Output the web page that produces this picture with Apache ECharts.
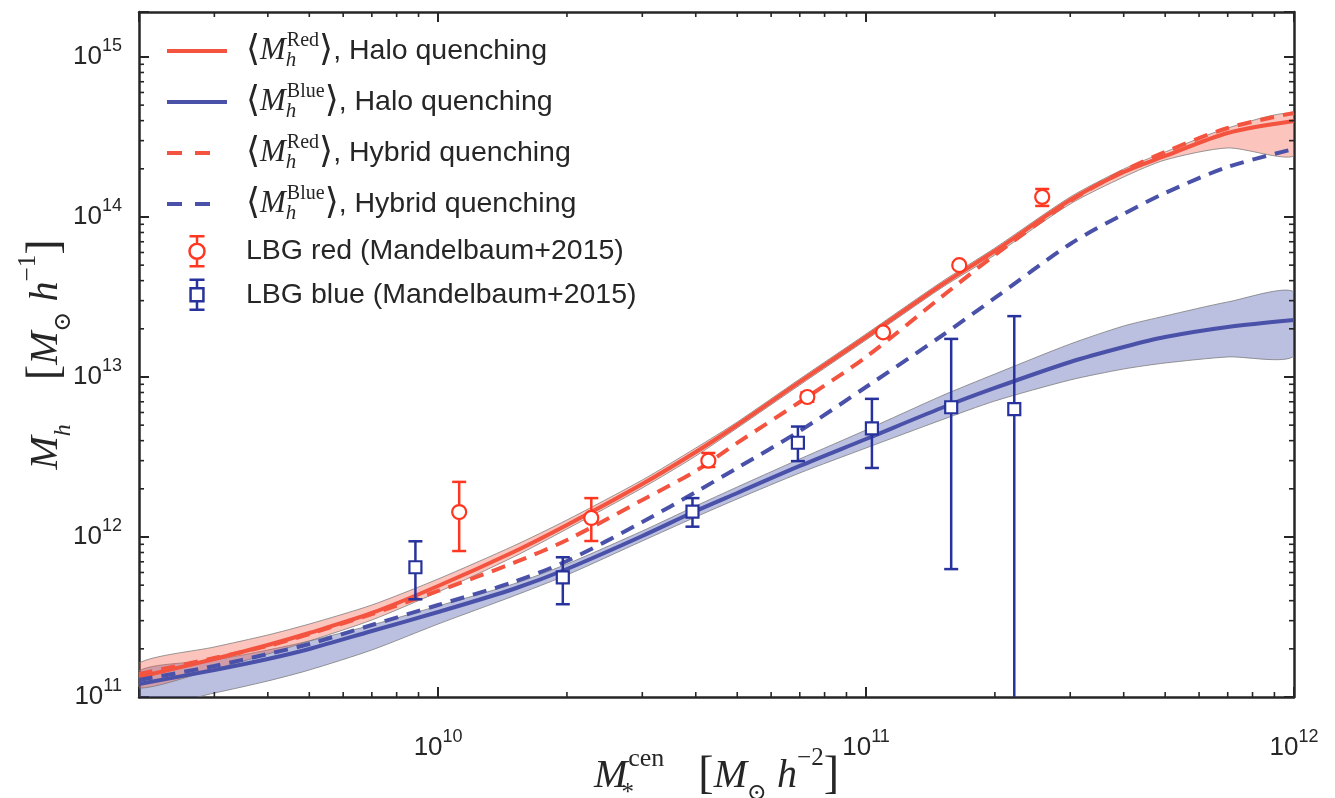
<!DOCTYPE html>
<html>
<head>
<meta charset="utf-8">
<script src="https://cdn.jsdelivr.net/npm/echarts@6/dist/echarts.min.js"></script>
<style>
  html, body { margin: 0; padding: 0; background: #fff; }
  #chart { width: 1335px; height: 798px; }
</style>
</head>
<body>
<div id="chart"></div>
<script>
// Central stellar mass grid shared by all model curves
const stellarMass = [2e9, 3e9, 4e9, 5e9, 7e9, 1e10, 1.5e10, 2e10, 3e10, 4e10, 5e10, 7e10,
  1e11, 1.5e11, 2e11, 3e11, 4e11, 5e11, 7e11, 1e12];

// Halo quenching model: mean halo mass of red / blue centrals with 1-sigma band
const redHalo = [1.334e11, 1.728e11, 2.113e11, 2.512e11, 3.35e11, 4.94e11, 8.06e11, 1.189e12, 2.144e12,
  3.398e12, 5.012e12, 9.31e12, 1.778e13, 3.758e13, 6.13e13, 1.277e14, 1.911e14, 2.406e14, 3.35e14, 3.98e14];
const redHaloLow = [1.138e11, 1.496e11, 1.857e11, 2.239e11, 3.028e11, 4.531e11, 7.5e11, 1.122e12, 2.025e12,
  3.207e12, 4.8e12, 8.91e12, 1.703e13, 3.6e13, 5.79e13, 1.206e14, 1.778e14, 2.271e14, 2.7e14, 2.406e14];
const redHaloHigh = [1.631e11, 2.054e11, 2.441e11, 2.858e11, 3.758e11, 5.464e11, 8.79e11, 1.277e12, 2.271e12,
  3.6e12, 5.233e12, 9.72e12, 1.857e13, 3.925e13, 6.4e13, 1.334e14, 1.995e14, 2.548e14, 3.6e14, 4.4e14];

const blueHalo = [1.206e11, 1.475e11, 1.728e11, 1.995e11, 2.585e11, 3.398e11, 4.732e11, 6.31e11, 1.015e12,
  1.454e12, 1.884e12, 2.779e12, 4.097e12, 6.4e12, 8.54e12, 1.241e13, 1.54e13, 1.778e13, 2.054e13, 2.271e13];
const blueHaloLow = [8.54e10, 1.059e11, 1.259e11, 1.475e11, 1.967e11, 2.858e11, 4.276e11, 5.788e11, 9.44e11,
  1.334e12, 1.728e12, 2.512e12, 3.6e12, 5.385e12, 7.079e12, 9.58e12, 1.122e13, 1.223e13, 1.334e13, 1.353e13];
const blueHaloHigh = [1.454e11, 1.703e11, 1.967e11, 2.239e11, 2.818e11, 3.704e11, 5.085e11, 6.78e11, 1.09e12,
  1.563e12, 2.054e12, 3.073e12, 4.665e12, 7.61e12, 1.044e13, 1.608e13, 2.083e13, 2.406e13, 2.943e13, 3.398e13];

// Hybrid quenching model
const redHybrid = [1.392e11, 1.753e11, 2.083e11, 2.476e11, 3.3e11, 4.6e11, 6.88e11, 9.58e11, 1.703e12,
  2.585e12, 3.87e12, 6.98e12, 1.334e13, 3.162e13, 5.79e13, 1.259e14, 1.939e14, 2.548e14, 3.6e14, 4.47e14];
const blueHybrid = [1.277e11, 1.562e11, 1.857e11, 2.144e11, 2.818e11, 3.758e11, 5.23e11, 7.08e11, 1.241e12,
  1.911e12, 2.7e12, 4.6e12, 8.66e12, 1.804e13, 3.117e13, 6.78e13, 1.044e14, 1.413e14, 2.054e14, 2.661e14];

// Weak-lensing measurements (Mandelbaum+2015), with error bar ends
const lbgRedMass = [1.12e10, 2.28e10, 4.28e10, 7.29e10, 1.096e11, 1.651e11, 2.58e11];
const lbgRedHalo = [1.432e12, 1.315e12, 3.0e12, 7.5e12, 1.9e13, 5.0e13, 1.334e14];
const lbgRedLow = [8.17e11, 9.44e11, 2.74e12, 7.0e12, 1.82e13, 4.8e13, 1.172e14];
const lbgRedHigh = [2.21e12, 1.75e12, 3.35e12, 8.0e12, 1.98e13, 5.2e13, 1.496e14];

const lbgBlueMass = [8.85e9, 1.956e10, 3.93e10, 6.93e10, 1.032e11, 1.581e11, 2.22e11];
const lbgBlueHalo = [6.47e11, 5.6e11, 1.44e12, 3.88e12, 4.78e12, 6.47e12, 6.3e12];
const lbgBlueLow = [4.08e11, 3.8e11, 1.16e12, 2.98e12, 2.7e12, 6.3e11, 1e10];
const lbgBlueHigh = [9.4e11, 7.47e11, 1.75e12, 4.9e12, 7.3e12, 1.73e13, 2.4e13];

// Axis ranges and decade ticks
const xRange = [2e9, 1e12];
const yRange = [1e11, 1.91e15];
const xDecades = [1e9, 1e10, 1e11];
const yDecades = [1e11, 1e12, 1e13, 1e14, 1e15];
const minorSteps = [2, 3, 4, 5, 6, 7, 8, 9];

const RED_LINE = '#F3533F';
const BLUE_LINE = '#4A51A8';
const RED_PT = '#FF3620';
const BLUE_PT = '#27329C';
const AXIS = '#262626';
const SERIF = '"Liberation Serif", "DejaVu Serif", serif';
const SANS = '"Liberation Sans", Arial, sans-serif';
const PLOT_DASH = [14, 9];
const LEGEND_DASH = [15, 13, 15, 20];

const pairs = (xs, ys) => xs.map((x, i) => [x, ys[i]]);

function minorList(decades, range) {
  const out = [];
  decades.forEach(d => minorSteps.forEach(m => {
    const v = d * m;
    if (v > range[0] * 1.0001 && v < range[1] * 0.9999) out.push(v);
  }));
  return out;
}
const xMinor = minorList(xDecades, xRange);
const yMinor = minorList(yDecades, yRange);

function powerLabel(v) {
  const lg = Math.log10(v);
  const e = Math.round(lg);
  if (Math.abs(lg - e) > 1e-6) return '';
  return '{b|10}{e|' + e + '}';
}
const tickRich = {
  b: { fontFamily: SANS, fontSize: 26, color: AXIS, lineHeight: 40 },
  e: { fontFamily: SANS, fontSize: 18, color: AXIS, lineHeight: 20, verticalAlign: 'top' }
};

function bandSeries(low, high, fill) {
  return {
    type: 'custom', coordinateSystem: 'cartesian2d', clip: true, silent: true, z: 1,
    data: stellarMass.map((x, i) => [x, low[i], high[i]]),
    renderItem(params, api) {
      if (params.dataIndex !== 0) return null;
      const n = params.dataInsideLength;
      const up = [], dn = [];
      for (let i = 0; i < n; i++) {
        up.push(api.coord([api.value(0, i), api.value(2, i)]));
        dn.push(api.coord([api.value(0, i), api.value(1, i)]));
      }
      return {
        type: 'polygon',
        shape: { points: up.concat(dn.reverse()), smooth: 0.25 },
        style: { fill: fill, stroke: 'rgba(120,120,120,0.75)', lineWidth: 1 }
      };
    }
  };
}

function errorSeries(name, xs, ys, lo, hi, color, marker) {
  return {
    name: name, type: 'custom', coordinateSystem: 'cartesian2d', clip: true, z: 6,
    data: xs.map((x, i) => [x, ys[i], lo[i], hi[i]]),
    renderItem(params, api) {
      const c = api.coord([api.value(0), api.value(1)]);
      const a = api.coord([api.value(0), api.value(2)]);
      const b = api.coord([api.value(0), api.value(3)]);
      const st = { stroke: color, lineWidth: 2.5, fill: null };
      const cap = 7;
      const mark = marker === 'circle'
        ? { type: 'circle', shape: { cx: c[0], cy: c[1], r: 7 }, style: { fill: '#fff', stroke: color, lineWidth: 2.2 } }
        : { type: 'rect', shape: { x: c[0] - 6, y: c[1] - 6, width: 12, height: 12 }, style: { fill: '#fff', stroke: color, lineWidth: 2.2 } };
      return {
        type: 'group', children: [
          { type: 'line', shape: { x1: c[0], y1: a[1], x2: c[0], y2: b[1] }, style: st },
          { type: 'line', shape: { x1: c[0] - cap, y1: a[1], x2: c[0] + cap, y2: a[1] }, style: st },
          { type: 'line', shape: { x1: c[0] - cap, y1: b[1], x2: c[0] + cap, y2: b[1] }, style: st },
          mark
        ]
      };
    }
  };
}

function lineSeries(name, ys, color, dashed) {
  return {
    name: name, type: 'line', data: pairs(stellarMass, ys), showSymbol: false, symbol: 'none',
    smooth: 0.3, z: dashed ? 4 : 3,
    lineStyle: { color: color, width: 4, type: dashed ? PLOT_DASH : 'solid', cap: 'butt' },
    itemStyle: { color: color }
  };
}

function minorTickSeries(values, vertical) {
  return {
    type: 'custom', coordinateSystem: 'cartesian2d', silent: true, z: 8, clip: false,
    data: values.map(v => vertical ? [xRange[0], v] : [v, yRange[0]]),
    renderItem(params, api) {
      const p = api.coord([api.value(0), api.value(1)]);
      const cs = params.coordSys;
      const st = { stroke: AXIS, lineWidth: 1.6 };
      const L = 5;
      if (vertical) {
        return { type: 'group', children: [
          { type: 'line', shape: { x1: cs.x, y1: p[1], x2: cs.x + L, y2: p[1] }, style: st },
          { type: 'line', shape: { x1: cs.x + cs.width, y1: p[1], x2: cs.x + cs.width - L, y2: p[1] }, style: st }
        ] };
      }
      return { type: 'group', children: [
        { type: 'line', shape: { x1: p[0], y1: cs.y + cs.height, x2: p[0], y2: cs.y + cs.height - L }, style: st },
        { type: 'line', shape: { x1: p[0], y1: cs.y, x2: p[0], y2: cs.y + L }, style: st }
      ] };
    }
  };
}

const legendText = {
  redHalo: '{pad|}{ang|⟨}{m|M}{hs|h}{sup|Red}{ang|⟩}{t|, Halo quenching}',
  blueHalo: '{pad|}{ang|⟨}{m|M}{hs|h}{sup|Blue}{ang|⟩}{t|, Halo quenching}',
  redHybrid: '{pad|}{ang|⟨}{m|M}{hs|h}{sup|Red}{ang|⟩}{t|, Hybrid quenching}',
  blueHybrid: '{pad|}{ang|⟨}{m|M}{hs|h}{sup|Blue}{ang|⟩}{t|, Hybrid quenching}',
  lbgRed: '{pad|}{p|LBG red (Mandelbaum+2015)}',
  lbgBlue: '{pad|}{p|LBG blue (Mandelbaum+2015)}'
};
// line entries in the legend show only the line, no marker
const noMarker = { color: 'rgba(0,0,0,0)', borderWidth: 0, opacity: 0 };
const legendLine = (name, color, dashed) => ({
  name: name, itemStyle: noMarker,
  lineStyle: { color: color, width: 4, type: dashed ? LEGEND_DASH : 'solid', cap: 'butt', opacity: 1 }
});

const axisBase = {
  type: 'log', logBase: 10,
  axisLine: { show: true, lineStyle: { color: AXIS, width: 2.5 } },
  axisTick: { show: true, inside: true, length: 10, lineStyle: { color: AXIS, width: 2 } },
  splitLine: { show: false }, minorTick: { show: false }
};

const option = {
  animation: false,
  backgroundColor: '#fff',
  grid: { left: 139, right: 41, top: 12, bottom: 101, containLabel: false, outerBoundsMode: 'none' },
  xAxis: [
    Object.assign({}, axisBase, {
      min: xRange[0], max: xRange[1], position: 'bottom',
      axisLabel: { formatter: powerLabel, margin: 31, rich: tickRich },
      name: '{m|M}{ss|*}{sup|cen}{gap|}{br|[}{m|M}{sub|⊙}{sp|}{m|h}{sup2|−2}{br|]}',
      nameLocation: 'middle', nameGap: 49, nameMoveOverlap: false,
      nameTextStyle: {
        rich: {
          m: { fontFamily: SERIF, fontStyle: 'italic', fontSize: 40, color: AXIS, lineHeight: 60 },
          ss: { fontFamily: SERIF, fontSize: 25, color: AXIS, lineHeight: 26, verticalAlign: 'bottom', width: 1 },
          sup: { fontFamily: SERIF, fontSize: 26, color: AXIS, lineHeight: 32, verticalAlign: 'top' },
          sup2: { fontFamily: SERIF, fontSize: 25, color: AXIS, lineHeight: 32, verticalAlign: 'top' },
          sub: { fontFamily: SERIF, fontSize: 24, color: AXIS, lineHeight: 24, verticalAlign: 'bottom' },
          gap: { width: 34 }, sp: { width: 10 },
          br: { fontFamily: SERIF, fontSize: 46, color: AXIS, lineHeight: 60 }
        }
      }
    }),
    Object.assign({}, axisBase, {
      min: xRange[0], max: xRange[1], position: 'top', axisLabel: { show: false }
    })
  ],
  yAxis: [
    Object.assign({}, axisBase, {
      min: yRange[0], max: yRange[1], position: 'left',
      axisLabel: { formatter: powerLabel, margin: 17, rich: tickRich },
      name: '{m|M}{sub|h}{gap|}{br|[}{m|M}{sub|⊙}{sp|}{m|h}{sup|−1}{br|]}',
      nameLocation: 'middle', nameGap: 63, nameRotate: 90, nameMoveOverlap: false,
      nameTextStyle: {
        rich: {
          m: { fontFamily: SERIF, fontStyle: 'italic', fontSize: 40, color: AXIS, lineHeight: 60 },
          sup: { fontFamily: SERIF, fontSize: 25, color: AXIS, lineHeight: 32, verticalAlign: 'top' },
          sub: { fontFamily: SERIF, fontStyle: 'italic', fontSize: 24, color: AXIS, lineHeight: 24, verticalAlign: 'bottom' },
          gap: { width: 44 }, sp: { width: 10 },
          br: { fontFamily: SERIF, fontSize: 46, color: AXIS, lineHeight: 60 }
        }
      }
    }),
    Object.assign({}, axisBase, {
      min: yRange[0], max: yRange[1], position: 'right', axisLabel: { show: false }
    })
  ],
  legend: {
    left: 165, top: 31, orient: 'vertical', padding: 0,
    itemWidth: 60, itemHeight: 30, itemGap: 11, selectedMode: false,
    formatter: name => legendText[name],
    textStyle: {
      color: AXIS,
      rich: {
        pad: { width: 14 },
        ang: { fontFamily: '"DejaVu Sans", sans-serif', fontSize: 36, color: AXIS, lineHeight: 40 },
        m: { fontFamily: SERIF, fontStyle: 'italic', fontSize: 31, color: AXIS, lineHeight: 40 },
        hs: { fontFamily: SERIF, fontStyle: 'italic', fontSize: 21, color: AXIS, lineHeight: 20, verticalAlign: 'bottom', width: 1 },
        sup: { fontFamily: SERIF, fontSize: 20, color: AXIS, lineHeight: 22, verticalAlign: 'top' },
        t: { fontFamily: SANS, fontSize: 28.5, color: AXIS, lineHeight: 40 },
        p: { fontFamily: SANS, fontSize: 28.5, color: AXIS, lineHeight: 28 }
      }
    },
    data: [
      legendLine('redHalo', RED_LINE, false),
      legendLine('blueHalo', BLUE_LINE, false),
      legendLine('redHybrid', RED_LINE, true),
      legendLine('blueHybrid', BLUE_LINE, true),
      { name: 'lbgRed', icon: 'path://M1,1 L15,1 M8,1 L8,8 M1,29 L15,29 M8,29 L8,22 M8,8 A7,7 0 1,1 8,22 A7,7 0 1,1 8,8 Z',
        itemStyle: { color: '#fff', borderColor: RED_PT, borderWidth: 2.5 } },
      { name: 'lbgBlue', icon: 'path://M1,1 L15,1 M8,1 L8,9 M1,29 L15,29 M8,29 L8,21 M2,9 L14,9 L14,21 L2,21 Z',
        itemStyle: { color: '#fff', borderColor: BLUE_PT, borderWidth: 2.5 } }
    ]
  },
  series: [
    bandSeries(blueHaloLow, blueHaloHigh, 'rgba(70,80,170,0.36)'),
    bandSeries(redHaloLow, redHaloHigh, 'rgba(245,92,72,0.36)'),
    lineSeries('redHalo', redHalo, RED_LINE, false),
    lineSeries('blueHalo', blueHalo, BLUE_LINE, false),
    lineSeries('redHybrid', redHybrid, RED_LINE, true),
    lineSeries('blueHybrid', blueHybrid, BLUE_LINE, true),
    errorSeries('lbgRed', lbgRedMass, lbgRedHalo, lbgRedLow, lbgRedHigh, RED_PT, 'circle'),
    errorSeries('lbgBlue', lbgBlueMass, lbgBlueHalo, lbgBlueLow, lbgBlueHigh, BLUE_PT, 'square'),
    minorTickSeries(xMinor, false),
    minorTickSeries(yMinor, true)
  ]
};

const chart = echarts.init(document.getElementById('chart'), null, { renderer: 'canvas' });
chart.setOption(option);
</script>
</body>
</html>
